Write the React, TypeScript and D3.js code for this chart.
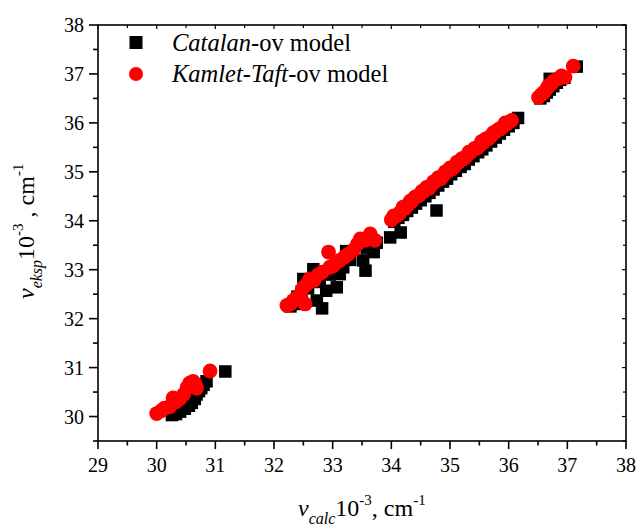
import React from "react";
import * as d3 from "d3";

const W = 637;
const H = 527;
const M = { left: 98, right: 626, top: 25, bottom: 441 };

const xDomain: [number, number] = [29, 38];
const yDomain: [number, number] = [29.5, 38];
const xTicks = [29, 30, 31, 32, 33, 34, 35, 36, 37, 38];
const yTicks = [30, 31, 32, 33, 34, 35, 36, 37, 38];

const seriesNames = ["Catalan", "Kamlet-Taft"];

// Catalan model: [calc, eksp]
const catalan: [number, number][] = [
  [30.26, 30.03], [30.33, 30.05], [30.4, 30.1], [30.48, 30.16], [30.55, 30.22], [30.6, 30.28],
  [30.65, 30.36], [30.68, 30.45], [30.72, 30.52], [30.76, 30.58], [30.8, 30.65], [30.85, 30.72],
  [31.17, 30.92],
  [32.28, 32.25], [32.35, 32.3], [32.4, 32.45], [32.47, 32.55], [32.5, 32.81], [32.58, 32.62],
  [32.67, 33.01], [32.73, 32.37], [32.82, 32.21], [32.78, 32.75], [32.89, 32.57], [32.95, 32.9],
  [33.07, 32.64], [33.12, 32.91], [33.18, 33.05], [33.23, 33.38], [33.3, 33.2], [33.56, 32.98],
  [33.52, 33.19], [33.58, 33.45], [33.7, 33.36], [33.75, 33.55], [33.98, 33.66], [34.16, 33.76],
  [34.05, 33.98], [34.12, 34.06], [34.2, 34.12], [34.27, 34.2], [34.35, 34.27], [34.42, 34.35],
  [34.5, 34.42], [34.58, 34.5], [34.65, 34.57], [34.72, 34.64], [34.77, 34.21], [34.8, 34.72],
  [34.88, 34.8], [34.95, 34.86], [35.02, 34.95], [35.1, 35.02], [35.18, 35.1], [35.25, 35.16],
  [35.32, 35.25], [35.4, 35.32], [35.48, 35.4], [35.55, 35.46], [35.62, 35.54], [35.7, 35.62],
  [35.78, 35.7], [35.85, 35.78], [35.92, 35.86], [36.0, 35.93], [36.08, 36.0], [36.16, 36.1],
  [36.54, 36.5], [36.6, 36.55], [36.65, 36.62], [36.7, 36.68], [36.7, 36.9], [36.76, 36.75],
  [36.82, 36.82], [36.88, 36.88], [36.95, 36.92], [37.16, 37.15],
];

// Kamlet-Taft model: [calc, eksp]
const kamletTaft: [number, number][] = [
  [30.0, 30.06], [30.08, 30.12], [30.13, 30.17], [30.22, 30.2], [30.28, 30.38], [30.33, 30.3],
  [30.4, 30.37], [30.46, 30.45], [30.52, 30.6], [30.56, 30.68], [30.62, 30.72], [30.66, 30.66],
  [30.68, 30.58], [30.91, 30.93],
  [32.22, 32.27], [32.28, 32.3], [32.33, 32.37], [32.38, 32.42], [32.45, 32.5], [32.53, 32.3],
  [32.5, 32.64], [32.56, 32.7], [32.61, 32.81], [32.68, 32.78], [32.76, 32.9], [32.82, 32.95],
  [32.93, 33.36], [32.95, 33.05], [33.01, 33.08], [33.06, 33.15], [33.12, 33.19], [33.2, 33.26],
  [33.27, 33.32], [33.35, 33.4], [33.42, 33.52], [33.47, 33.63], [33.55, 33.6], [33.64, 33.73],
  [33.72, 33.6],
  [34.0, 34.02], [34.08, 34.1], [34.15, 34.17], [34.2, 34.28], [34.28, 34.32], [34.35, 34.4],
  [34.4, 34.48], [34.48, 34.52], [34.55, 34.6], [34.6, 34.68], [34.68, 34.72], [34.75, 34.8],
  [34.8, 34.88], [34.88, 34.92], [34.95, 35.0], [35.0, 35.08], [35.08, 35.12], [35.15, 35.2],
  [35.2, 35.27], [35.28, 35.32], [35.35, 35.4], [35.42, 35.48], [35.5, 35.53], [35.57, 35.6],
  [35.62, 35.68], [35.7, 35.73], [35.76, 35.8], [35.82, 35.86], [35.9, 35.92], [35.97, 35.98],
  [36.05, 36.05],
  [34.04, 34.1], [34.12, 34.12], [34.24, 34.26], [34.32, 34.4], [34.44, 34.5], [34.52, 34.6],
  [34.64, 34.66], [34.72, 34.8], [34.84, 34.86], [34.92, 35.0], [35.04, 35.06], [35.12, 35.2],
  [35.24, 35.27], [35.32, 35.4], [35.46, 35.48], [35.54, 35.62], [35.66, 35.68], [35.74, 35.8],
  [35.86, 35.88], [35.94, 36.0],
  [36.51, 36.52], [36.56, 36.58], [36.6, 36.62], [36.65, 36.7], [36.68, 36.76], [36.73, 36.8],
  [36.77, 36.86], [36.84, 36.9], [36.9, 36.96], [36.96, 36.93], [37.1, 37.16],
];

const FONT = "'Liberation Serif', 'Times New Roman', serif";

export default function App() {
  const x = d3.scaleLinear().domain(xDomain).range([M.left, M.right]);
  const y = d3.scaleLinear().domain(yDomain).range([M.bottom, M.top]);

  const xMinor = d3.range(29.5, 38, 1);
  const yMinor = d3.range(29.5, 38, 0.5).filter((v) => !yTicks.includes(v));

  const SQ = 12.5;
  const R = 7.4;

  return (
    <svg
      width={W}
      height={H}
      style={{ position: "absolute", left: 0, top: 0, background: "#fff" }}
      fontFamily={FONT}
    >
      <rect x={0} y={0} width={W} height={H} fill="#fff" />

      {/* data */}
      <g>
        {catalan.map((d, i) => (
          <rect
            key={"c" + i}
            x={x(d[0]) - SQ / 2}
            y={y(d[1]) - SQ / 2}
            width={SQ}
            height={SQ}
            fill="#000"
          />
        ))}
        {kamletTaft.map((d, i) => (
          <circle key={"k" + i} cx={x(d[0])} cy={y(d[1])} r={R} fill="#ff0000" />
        ))}
      </g>

      {/* frame */}
      <rect
        x={M.left}
        y={M.top}
        width={M.right - M.left}
        height={M.bottom - M.top}
        fill="none"
        stroke="#000"
        strokeWidth={1.6}
      />

      {/* x ticks */}
      {xTicks.map((t) => (
        <g key={"xt" + t}>
          <line x1={x(t)} x2={x(t)} y1={M.bottom} y2={M.bottom + 8} stroke="#000" strokeWidth={1.6} />
          <line x1={x(t)} x2={x(t)} y1={M.top} y2={M.top + 4} stroke="#000" strokeWidth={1.2} />
          <text x={x(t)} y={472} textAnchor="middle" fontSize={20} fill="#000">
            {t}
          </text>
        </g>
      ))}
      {xMinor.map((t) => (
        <g key={"xm" + t}>
          <line x1={x(t)} x2={x(t)} y1={M.bottom} y2={M.bottom + 4.5} stroke="#000" strokeWidth={1.6} />
          <line x1={x(t)} x2={x(t)} y1={M.top} y2={M.top + 3} stroke="#000" strokeWidth={1.2} />
        </g>
      ))}

      {/* y ticks */}
      {yTicks.map((t) => (
        <g key={"yt" + t}>
          <line x1={M.left - 9} x2={M.left} y1={y(t)} y2={y(t)} stroke="#000" strokeWidth={1.6} />
          <line x1={M.right - 4} x2={M.right} y1={y(t)} y2={y(t)} stroke="#000" strokeWidth={1.2} />
          <text x={84} y={y(t) + 7} textAnchor="end" fontSize={20} fill="#000">
            {t}
          </text>
        </g>
      ))}
      {yMinor.map((t) => (
        <g key={"ym" + t}>
          <line x1={M.left - 5} x2={M.left} y1={y(t)} y2={y(t)} stroke="#000" strokeWidth={1.6} />
          <line x1={M.right - 3} x2={M.right} y1={y(t)} y2={y(t)} stroke="#000" strokeWidth={1.2} />
        </g>
      ))}

      {/* legend */}
      <rect x={136 - 6.5} y={42.5 - 6.5} width={13} height={13} fill="#000" />
      <text x={172} y={51} fontSize={24.5} fill="#000">
        <tspan fontStyle="italic">{seriesNames[0]}</tspan>
        <tspan>-ov model</tspan>
      </text>
      <circle cx={136} cy={74} r={7} fill="#ff0000" />
      <text x={172} y={82} fontSize={24.5} fill="#000">
        <tspan fontStyle="italic">{seriesNames[1]}</tspan>
        <tspan>-ov model</tspan>
      </text>

      {/* x title */}
      <text x={298} y={516} textAnchor="start" fontSize={24} fill="#000">
        <tspan fontStyle="italic">ν</tspan>
        <tspan fontStyle="italic" fontSize={16} dy={8}>calc</tspan>
        <tspan dy={-8}>10</tspan>
        <tspan fontSize={15} dy={-11}>-3</tspan>
        <tspan dy={11}>, cm</tspan>
        <tspan fontSize={15} dy={-11}>-1</tspan>
      </text>

      {/* y title */}
      <text
        transform="translate(34,299) rotate(-90)"
        textAnchor="start"
        fontSize={24}
        fill="#000"
      >
        <tspan fontStyle="italic">ν</tspan>
        <tspan fontStyle="italic" fontSize={16} dy={8}>eksp</tspan>
        <tspan dy={-8}>10</tspan>
        <tspan fontSize={15} dy={-11}>-3</tspan>
        <tspan dy={11}> , cm</tspan>
        <tspan fontSize={15} dy={-11}>-1</tspan>
      </text>
    </svg>
  );
}
